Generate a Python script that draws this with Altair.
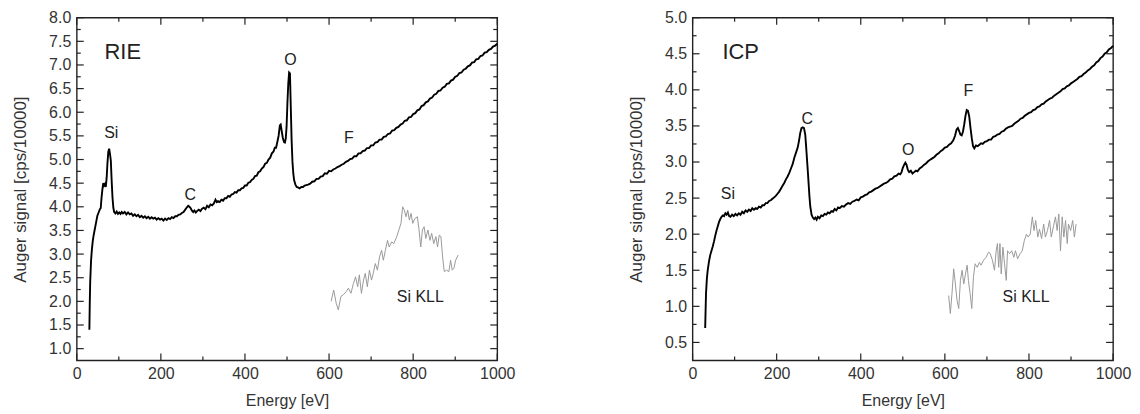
import altair as alt
import pandas as pd

# ---------------- data ----------------
RIE_SPECTRUM = [
(30,1.40),(31,2.00),(32,2.42),(34,2.86),(36,3.10),(38,3.27),(40,3.39),(43,3.53),(46,3.67),(49,3.81),
(52,3.88),(55,3.95),(57,3.97),(59,4.20),(61,4.37),(63,4.50),(65,4.45),(67,4.48),(69,4.42),(71,4.60),
(73,4.92),(75,5.16),(77,5.23),(79,5.12),(81,4.98),(83,4.55),(85,4.20),(87,3.98),(89,3.89),(92,3.86),
(95,3.90),(98,3.85),(101,3.88),(104,3.85),(107,3.89),(110,3.86),(114,3.89),(118,3.84),(122,3.88),(126,3.84),
(130,3.86),(134,3.81),(138,3.84),(142,3.80),(146,3.83),(150,3.78),(154,3.81),(158,3.77),(162,3.80),(166,3.76),
(170,3.79),(174,3.75),(178,3.78),(182,3.75),(186,3.77),(190,3.73),(194,3.76),(198,3.73),(202,3.75),(206,3.71),
(210,3.75),(214,3.72),(218,3.76),(222,3.74),(226,3.78),(230,3.76),(234,3.80),(238,3.80),(242,3.83),(246,3.84),
(250,3.87),(254,3.89),(258,3.94),(262,3.99),(265,4.02),(268,4.00),(271,3.97),(274,3.92),(277,3.89),(280,3.92),
(283,3.88),(286,3.91),(290,3.94),(294,3.91),(298,3.96),(302,3.98),(306,3.95),(310,4.02),(314,3.99),(318,4.05),
(322,4.03),(326,4.07),(330,4.15),(333,4.10),(336,4.12),(340,4.10),(344,4.15),(348,4.13),(352,4.18),(356,4.18),
(360,4.23),(364,4.21),(368,4.26),(372,4.27),(376,4.31),(380,4.30),(384,4.35),(388,4.35),(392,4.39),(396,4.40),
(400,4.45),(404,4.45),(408,4.51),(412,4.52),(416,4.57),(420,4.59),(424,4.65),(428,4.66),(432,4.73),(436,4.75),
(440,4.81),(444,4.84),(448,4.91),(452,4.93),(456,5.00),(460,5.04),(464,5.13),(468,5.17),(471,5.25),(474,5.25),
(477,5.37),(480,5.50),(483,5.72),(485,5.74),(487,5.62),(490,5.46),(493,5.37),(495,5.36),(497,5.44),(499,5.70),
(501,6.20),(503,6.60),(505,6.84),(507,6.82),(509,6.10),(511,5.40),(513,4.95),(515,4.70),(517,4.56),(520,4.47),
(523,4.42),(526,4.41),(530,4.39),(534,4.42),(538,4.42),(542,4.45),(546,4.46),(550,4.47),(555,4.49),(560,4.53),
(565,4.54),(570,4.59),(575,4.59),(580,4.64),(585,4.65),(590,4.71),(595,4.70),(600,4.76),(605,4.75),(610,4.79),
(615,4.81),(620,4.84),(625,4.86),(630,4.89),(635,4.91),(640,4.95),(645,4.97),(650,5.01),(655,5.02),(660,5.07),
(665,5.07),(670,5.13),(675,5.13),(680,5.18),(685,5.19),(690,5.24),(695,5.24),(700,5.30),(705,5.30),(710,5.36),
(715,5.37),(720,5.42),(725,5.42),(730,5.48),(735,5.49),(740,5.54),(745,5.55),(750,5.61),(755,5.62),(760,5.67),
(765,5.69),(770,5.74),(775,5.76),(780,5.82),(785,5.83),(790,5.89),(795,5.90),(800,5.96),(805,5.98),(810,6.04),
(815,6.06),(820,6.13),(825,6.15),(830,6.21),(835,6.23),(840,6.29),(845,6.31),(850,6.37),(855,6.39),(860,6.45),
(865,6.46),(870,6.52),(875,6.54),(880,6.60),(885,6.61),(890,6.67),(895,6.69),(900,6.75),(905,6.77),(910,6.83),
(915,6.84),(920,6.90),(925,6.92),(930,6.97),(935,6.99),(940,7.05),(945,7.06),(950,7.12),(955,7.13),(960,7.19),
(965,7.20),(970,7.26),(975,7.27),(980,7.32),(985,7.34),(990,7.39),(995,7.41),(1000,7.45),
]

RIE_SI_KLL = [
(605,2.00),(611,2.24),(617,1.96),(622,1.82),(628,2.10),(634,2.14),(641,2.21),(646,2.28),(652,2.17),(658,2.38),
(663,2.52),(668,2.31),(672,2.56),(677,2.17),(682,2.45),(686,2.59),(691,2.31),(696,2.66),(701,2.45),(705,2.59),
(710,2.80),(715,2.66),(720,2.94),(725,3.08),(729,2.87),(734,3.08),(739,3.29),(743,3.15),(749,3.26),(754,3.22),
(761,3.37),(766,3.51),(771,3.65),(775,4.00),(779,3.93),(783,3.79),(787,3.93),(791,3.72),(795,3.86),(799,3.65),
(804,3.75),(810,3.79),(814,3.51),(818,3.15),(822,3.51),(826,3.58),(830,3.33),(835,3.51),(840,3.29),(844,3.44),
(849,3.22),(854,3.37),(858,3.15),(862,3.40),(866,3.37),(870,2.94),(874,2.63),(879,2.66),(885,2.63),(889,2.87),
(893,2.66),(897,2.70),(901,2.87),(907,2.98),
]

ICP_SPECTRUM = [
(30,0.70),(31,0.95),(32,1.18),(34,1.38),(36,1.50),(39,1.62),(42,1.71),(45,1.77),(48,1.83),(51,1.90),
(54,1.98),(57,2.05),(60,2.11),(63,2.17),(66,2.21),(69,2.24),(72,2.26),(75,2.25),(78,2.29),(81,2.27),
(84,2.30),(87,2.25),(90,2.24),(94,2.27),(98,2.25),(102,2.28),(106,2.26),(110,2.29),(114,2.27),(118,2.31),
(122,2.29),(126,2.33),(130,2.31),(134,2.34),(138,2.32),(142,2.36),(146,2.34),(150,2.36),(154,2.35),(158,2.38),
(162,2.37),(166,2.40),(170,2.40),(174,2.43),(178,2.43),(182,2.46),(186,2.47),(190,2.49),(194,2.51),(198,2.53),
(202,2.56),(206,2.59),(210,2.63),(214,2.67),(218,2.71),(222,2.76),(226,2.80),(230,2.85),(234,2.91),(238,2.97),
(242,3.06),(246,3.13),(250,3.20),(253,3.29),(256,3.40),(259,3.47),(262,3.48),(265,3.47),(268,3.38),(270,3.22),
(272,3.05),(274,2.88),(276,2.70),(278,2.52),(280,2.38),(283,2.27),(286,2.23),(289,2.21),(292,2.23),(295,2.20),
(298,2.24),(302,2.22),(306,2.26),(310,2.25),(314,2.28),(318,2.27),(322,2.30),(326,2.29),(330,2.32),(334,2.31),
(338,2.35),(342,2.33),(346,2.37),(350,2.36),(355,2.39),(360,2.38),(365,2.41),(370,2.43),(375,2.42),(380,2.45),
(385,2.46),(390,2.48),(395,2.47),(400,2.51),(405,2.52),(410,2.54),(415,2.55),(420,2.58),(425,2.59),(430,2.61),
(435,2.63),(440,2.64),(445,2.66),(450,2.68),(455,2.70),(460,2.71),(465,2.73),(470,2.76),(475,2.77),(480,2.80),
(485,2.81),(490,2.84),(494,2.83),(497,2.86),(500,2.92),(503,2.96),(506,2.99),(509,2.96),(512,2.89),(515,2.86),
(519,2.88),(523,2.84),(527,2.86),(531,2.88),(535,2.87),(540,2.91),(545,2.93),(550,2.96),(555,2.98),(560,3.01),
(565,3.03),(570,3.05),(575,3.07),(580,3.10),(585,3.12),(590,3.15),(595,3.17),(600,3.20),(605,3.21),(610,3.24),
(615,3.26),(620,3.30),(624,3.36),(628,3.45),(631,3.47),(634,3.43),(637,3.38),(640,3.37),(643,3.42),(646,3.52),
(649,3.64),(652,3.72),(655,3.71),(658,3.63),(661,3.47),(664,3.33),(667,3.22),(670,3.19),(674,3.23),(678,3.22),
(682,3.24),(686,3.26),(690,3.25),(695,3.28),(700,3.29),(705,3.31),(710,3.31),(715,3.35),(720,3.36),(725,3.38),
(730,3.39),(735,3.42),(740,3.43),(745,3.46),(750,3.48),(755,3.49),(760,3.50),(765,3.53),(770,3.55),(775,3.57),
(780,3.60),(785,3.61),(790,3.64),(795,3.66),(800,3.68),(805,3.69),(810,3.72),(815,3.73),(820,3.76),(825,3.77),
(830,3.80),(835,3.81),(840,3.84),(845,3.86),(850,3.88),(855,3.89),(860,3.92),(865,3.94),(870,3.96),(875,3.98),
(880,4.01),(885,4.02),(890,4.05),(895,4.06),(900,4.09),(905,4.11),(910,4.13),(915,4.15),(920,4.18),(925,4.19),
(930,4.22),(935,4.24),(940,4.27),(945,4.29),(950,4.32),(955,4.34),(960,4.38),(965,4.40),(970,4.44),(975,4.46),
(980,4.50),(985,4.52),(990,4.56),(995,4.58),(1000,4.61),
]

ICP_SI_KLL = [
(609,1.15),(613,0.90),(617,1.18),(621,1.52),(625,1.31),(629,1.08),(633,0.97),(637,1.36),(641,1.50),(645,1.31),
(649,1.45),(653,1.57),(656,1.36),(660,1.18),(664,0.97),(668,1.41),(672,1.59),(677,1.54),(682,1.61),(686,1.57),
(692,1.64),(698,1.68),(704,1.75),(708,1.73),(713,1.64),(718,1.50),(722,1.77),(725,1.87),(728,1.54),(731,1.87),
(734,1.45),(738,1.82),(742,1.59),(746,1.36),(749,1.77),(754,1.73),(759,1.77),(764,1.68),(768,1.77),(773,1.66),
(779,1.73),(784,1.77),(789,1.91),(794,2.00),(798,1.96),(803,2.00),(808,2.24),(812,2.05),(816,2.19),(821,1.96),
(825,2.07),(830,1.94),(835,2.14),(839,1.96),(844,2.05),(849,2.19),(853,1.96),(858,2.10),(863,2.24),(867,2.05),
(871,2.28),(875,1.77),(879,2.24),(883,1.96),(887,2.19),(891,1.87),(894,2.14),(899,2.05),(904,2.19),(908,1.96),
(912,2.14),
]

RIE_PEAKS = [("Si", 82, 5.56), ("C", 270, 4.25), ("O", 508, 7.10), ("F", 647, 5.45), ("Si KLL", 817, 2.10)]
ICP_PEAKS = [("Si", 84, 2.55), ("C", 273, 3.60), ("O", 513, 3.16), ("F", 656, 3.99), ("Si KLL", 793, 1.13)]
RIE_NAME = ("RIE", 66, 7.28)
ICP_NAME = ("ICP", 71, 4.53)

X_MAJOR = [0, 200, 400, 600, 800, 1000]
X_MINOR = [100, 300, 500, 700, 900]
RIE_Y_DOMAIN = [0.75, 8.0]
RIE_Y_MAJOR = [1.0, 1.5, 2.0, 2.5, 3.0, 3.5, 4.0, 4.5, 5.0, 5.5, 6.0, 6.5, 7.0, 7.5, 8.0]
RIE_Y_MINOR = [1.25, 1.75, 2.25, 2.75, 3.25, 3.75, 4.25, 4.75, 5.25, 5.75, 6.25, 6.75, 7.25, 7.75]
ICP_Y_DOMAIN = [0.25, 5.0]
ICP_Y_MAJOR = [0.5, 1.0, 1.5, 2.0, 2.5, 3.0, 3.5, 4.0, 4.5, 5.0]
ICP_Y_MINOR = [0.75, 1.25, 1.75, 2.25, 2.75, 3.25, 3.75, 4.25, 4.75]

# ---------------- chart ----------------
W, H = 422, 344
TXT = "#222222"
AX = "#333333"
FONT = "Liberation Sans"


def panel(spectrum, inset, peaks, name, ydom, ymaj, ymin):
    xs = alt.Scale(domain=[0, 1000], nice=False, zero=False)
    ys = alt.Scale(domain=ydom, nice=False, zero=False)
    common = dict(ticks=False, domain=False, grid=False, labelFlush=False, labelOverlap=False,
                  labelFontSize=16, labelColor=AX, titleColor=AX,
                  titleFontWeight="normal", labelFont=FONT, titleFont=FONT)
    xaxis = alt.Axis(values=X_MAJOR, format="d", title="Energy [eV]", titleFontSize=16,
                     labelPadding=5, titlePadding=11, **common)
    yaxis = alt.Axis(values=ymaj, format=".1f", title="Auger signal [cps/10000]", titleFontSize=17,
                     labelPadding=6, titlePadding=19, **common)

    def X(field="energy"):
        return alt.X(f"{field}:Q", scale=xs, axis=xaxis)

    def Y(field="signal"):
        return alt.Y(f"{field}:Q", scale=ys, axis=yaxis)

    main_df = pd.DataFrame(spectrum, columns=["energy", "signal"])
    inset_df = pd.DataFrame(inset, columns=["energy", "signal"])
    peaks_df = pd.DataFrame(peaks, columns=["label", "energy", "signal"])
    name_df = pd.DataFrame([name], columns=["label", "energy", "signal"])

    main = alt.Chart(main_df).mark_line(color="#000000", strokeWidth=1.9).encode(x=X(), y=Y())
    ins = alt.Chart(inset_df).mark_line(color="#9a9a9a", strokeWidth=1.0).encode(x=X(), y=Y())
    lbl = alt.Chart(peaks_df).mark_text(fontSize=16, font=FONT, color=TXT, align="center",
                                        baseline="middle").encode(x=X(), y=Y(), text="label:N")
    nm = alt.Chart(name_df).mark_text(fontSize=22, font=FONT, color=TXT, align="left",
                                      baseline="middle").encode(x=X(), y=Y(), text="label:N")

    layers = [main, ins, lbl, nm]
    for vals, L in [(X_MAJOR, 7), (X_MINOR, 4)]:
        df = pd.DataFrame({"energy": vals})
        r = alt.Chart(df).mark_rule(color="#222222", strokeWidth=1.2)
        layers.append(r.encode(x=X(), y=alt.value(H), y2=alt.value(H - L)))
        layers.append(r.encode(x=X(), y=alt.value(0), y2=alt.value(L)))
    for vals, L in [(ymaj, 7), (ymin, 4)]:
        df = pd.DataFrame({"signal": vals})
        r = alt.Chart(df).mark_rule(color="#222222", strokeWidth=1.2)
        layers.append(r.encode(y=Y(), x=alt.value(0), x2=alt.value(L)))
        layers.append(r.encode(y=Y(), x=alt.value(W), x2=alt.value(W - L)))

    return alt.layer(*layers).properties(width=W, height=H)


left = panel(RIE_SPECTRUM, RIE_SI_KLL, RIE_PEAKS, RIE_NAME, RIE_Y_DOMAIN, RIE_Y_MAJOR, RIE_Y_MINOR)
right = panel(ICP_SPECTRUM, ICP_SI_KLL, ICP_PEAKS, ICP_NAME, ICP_Y_DOMAIN, ICP_Y_MAJOR, ICP_Y_MINOR)

chart = alt.hconcat(left, right, spacing=111).properties(
    padding={"left": 3, "top": 0, "right": 0, "bottom": 0}
).configure(font=FONT, background="white").configure_view(
    stroke="#222222", strokeWidth=1.4
)

chart.save("out.html", embed_options={"renderer": "svg", "actions": False})
